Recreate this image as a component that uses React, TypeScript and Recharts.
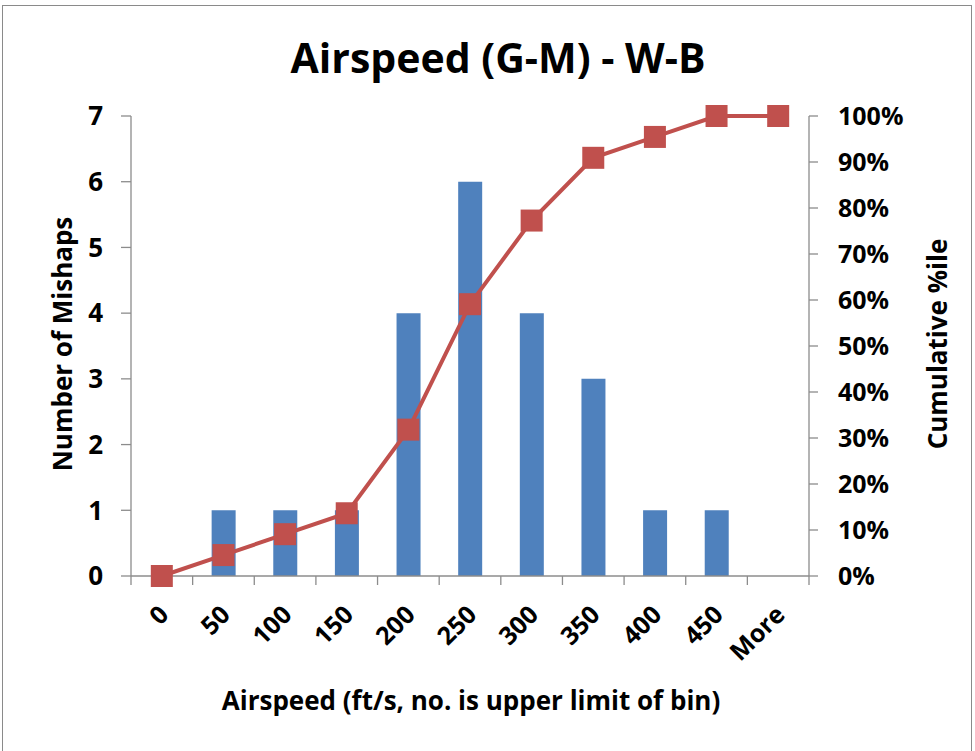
import React from 'react';
import { ComposedChart, Bar, Line, XAxis, YAxis } from 'recharts';

const bins = ['0', '50', '100', '150', '200', '250', '300', '350', '400', '450', 'More'];
const counts = [0, 1, 1, 1, 4, 6, 4, 3, 1, 1, 0];
const cumulative = [0, 0.0455, 0.0909, 0.1364, 0.3182, 0.5909, 0.7727, 0.9091, 0.9545, 1.0, 1.0];
const countTicks = [0, 1, 2, 3, 4, 5, 6, 7];
const pctTicks = [0, 0.1, 0.2, 0.3, 0.4, 0.5, 0.6, 0.7, 0.8, 0.9, 1.0];

const data = bins.map((b, i) => ({ bin: b, count: counts[i], cum: cumulative[i] }));

const FONT = '"Open Sans", Lato, sans-serif';
const AXIS = '#8c8c8c';
const W = 975;
const H = 751;
const PLOT_LEFT = 131;
const PLOT_RIGHT = 809;
const BAND = (PLOT_RIGHT - PLOT_LEFT) / bins.length;

const XTick = (props: any) => {
  const { x, y, payload, index } = props;
  const lx = x - BAND / 2;
  const rx = x + BAND / 2;
  const ax = x + 2;
  const ay = y + 26;
  return (
    <g>
      <line x1={lx} y1={y - 8} x2={lx} y2={y + 1} stroke={AXIS} strokeWidth={1.3} />
      {index === bins.length - 1 && (
        <line x1={rx} y1={y - 8} x2={rx} y2={y + 1} stroke={AXIS} strokeWidth={1.3} />
      )}
      <text
        x={ax}
        y={ay}
        transform={`rotate(-45, ${ax}, ${ay})`}
        textAnchor="end"
        dy="0.35em"
        fontFamily={FONT}
        fontWeight={700}
        fontSize={25}
        fill="#000"
      >
        {payload.value}
      </text>
    </g>
  );
};

const titleStyle: React.CSSProperties = {
  position: 'absolute',
  fontFamily: FONT,
  fontWeight: 700,
  fontSize: 26,
  color: '#000',
  whiteSpace: 'nowrap',
  lineHeight: 1,
};

export default function App() {
  return (
    <div style={{ position: 'absolute', left: 0, top: 0, width: W, height: H, background: '#fff' }}>
      <div
        style={{
          position: 'absolute',
          left: 2,
          top: 5,
          width: 970,
          height: 760,
          border: '1.5px solid #8a8a8a',
          boxSizing: 'border-box',
        }}
      />
      <div
        style={{
          ...titleStyle,
          left: 498,
          top: 57,
          fontSize: 41,
          transform: 'translate(-50%, -50%)',
        }}
      >
        Airspeed (G-M) - W-B
      </div>
      <div
        style={{
          ...titleStyle,
          left: 62,
          top: 344,
          transform: 'translate(-50%, -50%) rotate(-90deg)',
        }}
      >
        Number of Mishaps
      </div>
      <div
        style={{
          ...titleStyle,
          left: 937,
          top: 344,
          transform: 'translate(-50%, -50%) rotate(-90deg)',
        }}
      >
        Cumulative %ile
      </div>
      <div
        style={{
          ...titleStyle,
          left: 471,
          top: 700,
          transform: 'translate(-50%, -50%)',
        }}
      >
        Airspeed (ft/s, no. is upper limit of bin)
      </div>
      <div style={{ position: 'absolute', left: 0, top: 0 }}>
        <ComposedChart
          width={W}
          height={H}
          data={data}
          margin={{ top: 116, right: 0, bottom: 75, left: 0 }}
          barCategoryGap={0}
          barGap={0}
        >
          <XAxis
            dataKey="bin"
            xAxisId="x"
            height={100}
            interval={0}
            stroke={AXIS}
            axisLine={{ stroke: AXIS, strokeWidth: 1.3 }}
            tickLine={false}
            tick={<XTick />}
          />
          <YAxis
            yAxisId="left"
            orientation="left"
            width={PLOT_LEFT}
            domain={[0, 7]}
            ticks={countTicks}
            interval={0}
            axisLine={{ stroke: AXIS, strokeWidth: 1.3 }}
            tickLine={{ stroke: AXIS, strokeWidth: 1.3 }}
            tickSize={10}
            tickMargin={18}
            tick={{ fontFamily: FONT, fontWeight: 700, fontSize: 26, fill: '#000' }}
          />
          <YAxis
            yAxisId="right"
            orientation="right"
            width={W - PLOT_RIGHT}
            domain={[0, 1]}
            ticks={pctTicks}
            interval={0}
            tickFormatter={(v: number) => `${Math.round(v * 100)}%`}
            axisLine={{ stroke: AXIS, strokeWidth: 1.3 }}
            tickLine={{ stroke: AXIS, strokeWidth: 1.3 }}
            tickSize={9}
            tickMargin={20}
            tick={{ fontFamily: FONT, fontWeight: 700, fontSize: 25, fill: '#000', textAnchor: 'start' }}
          />
          <Bar
            dataKey="count"
            xAxisId="x"
            yAxisId="left"
            fill="#4F81BD"
            barSize={24}
            isAnimationActive={false}
          />
          <Line
            dataKey="cum"
            xAxisId="x"
            yAxisId="right"
            stroke="#C0504D"
            strokeWidth={4}
            dot={(p: any) => (
              <rect key={`d${p.index}`} x={p.cx - 11} y={p.cy - 11} width={22} height={22} fill="#C0504D" />
            )}
            activeDot={false}
            isAnimationActive={false}
          />
        </ComposedChart>
      </div>
    </div>
  );
}
